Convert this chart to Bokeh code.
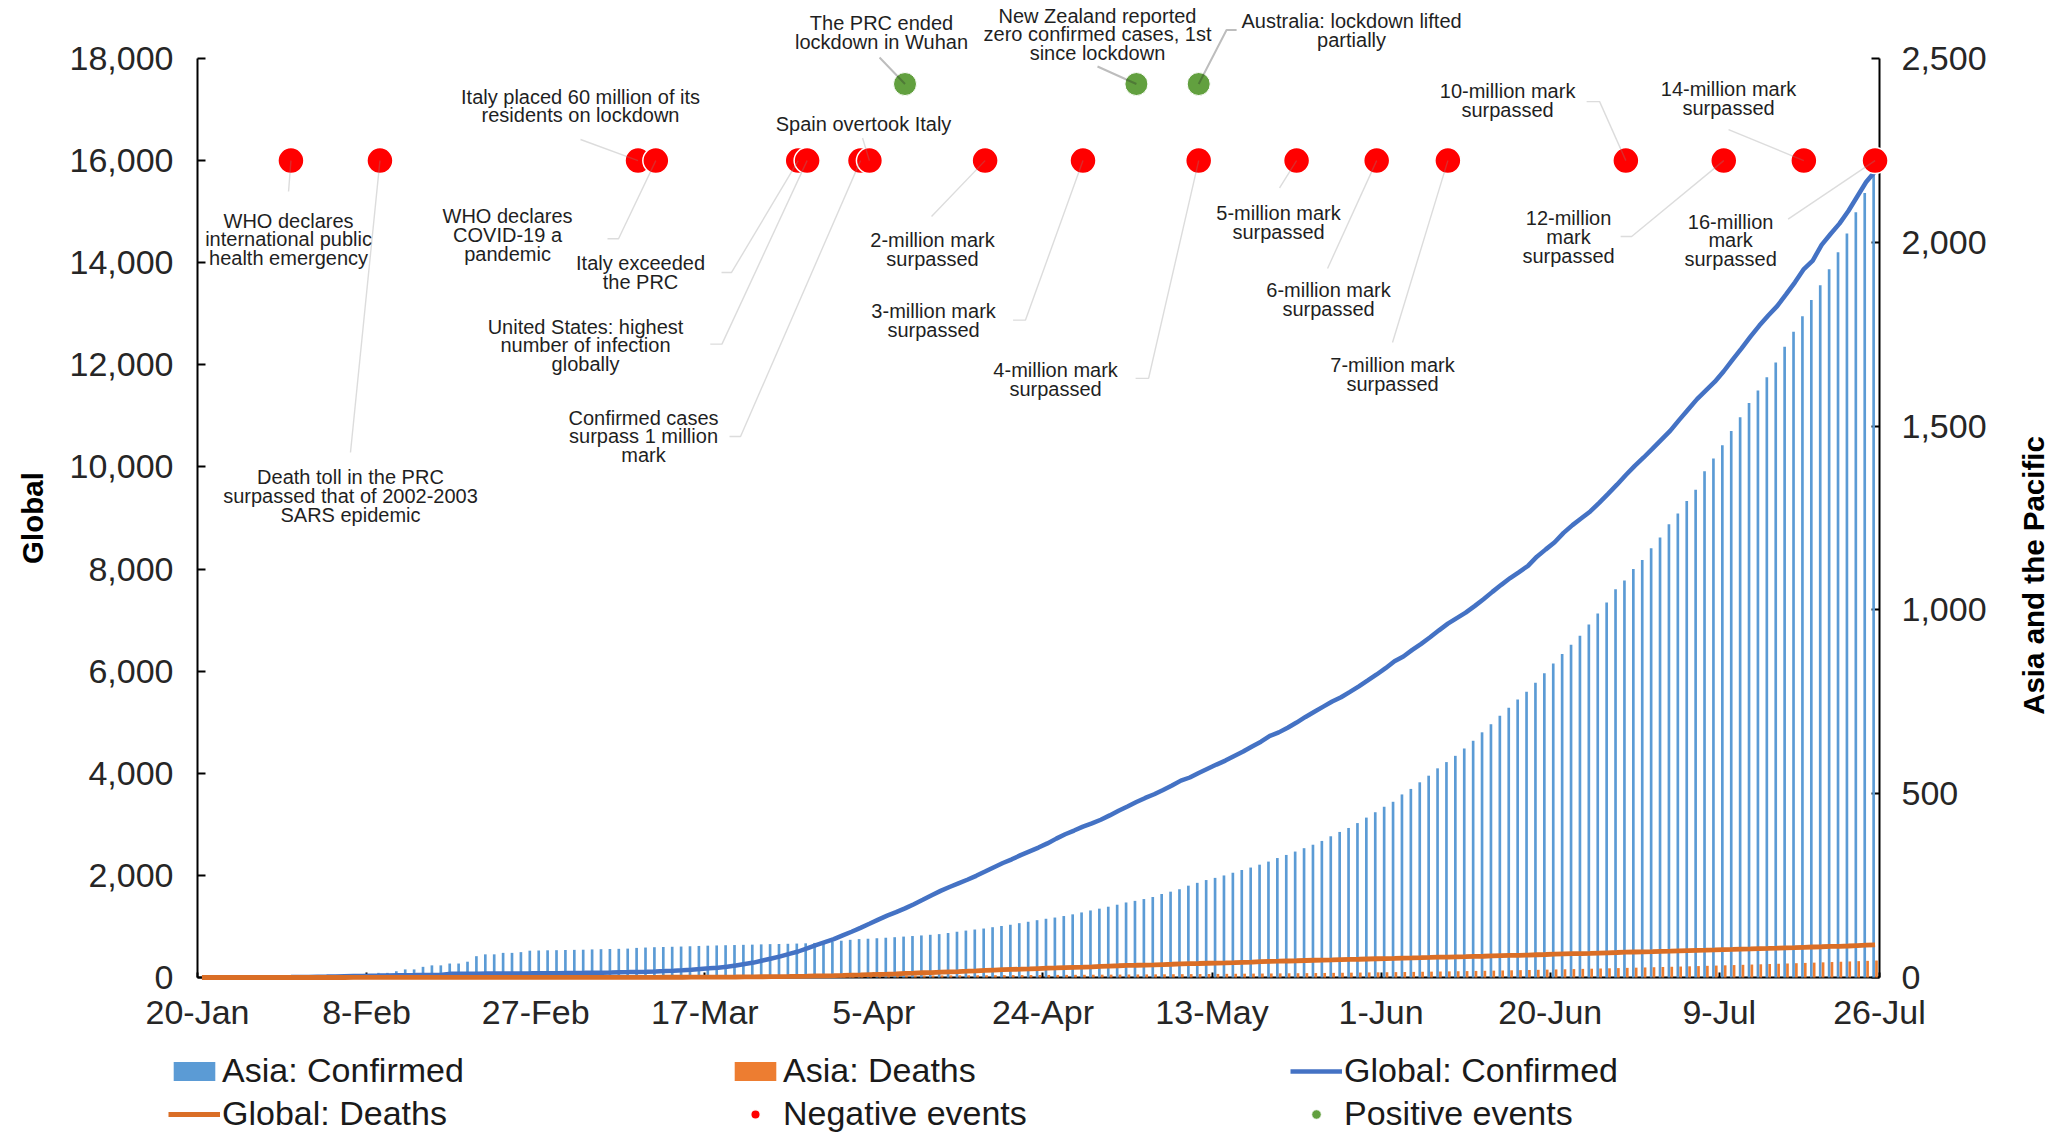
import math
import sys
from datetime import date
from bokeh.plotting import figure
from bokeh.models import (Range1d, LinearAxis, FixedTicker, NumeralTickFormatter,
                          ColumnDataSource, Legend, LegendItem, Label, PolyAnnotation)
from bokeh.embed import file_html
from bokeh.resources import INLINE

START = date(2020, 1, 20)

# ---------------- data (thousands of cases), one value per day from 20-Jan to 26-Jul ----------------
global_confirmed = [
    0.28, 0.28, 0.31, 0.58, 0.85, 1.32, 2.01, 2.80, 4.59, 6.07, 7.82, 9.83,
    11.95, 14.56, 17.39, 20.63, 24.55, 28.28, 31.48, 34.89, 37.56, 40.55, 43.10, 45.17, 47.00, 49.05,
    50.58, 51.86, 71.43, 73.33, 75.20, 75.75, 76.77, 77.79, 78.81, 79.33, 80.24, 81.11, 82.29, 83.65, 85.40,
    87.14, 88.95, 90.87, 93.09, 95.32, 98.19, 101.93, 105.59, 109.58, 113.70, 118.32, 125.05, 132.76,
    142.54, 153.52, 167.52, 179.11, 191.13, 209.84, 234.07, 266.07, 292.14, 332.93, 372.76, 414.18,
    462.68, 509.16, 571.68, 634.84, 693.22, 750.89,
    823.63, 896.45, 972.30, 1051.64, 1133.76, 1210.96, 1279.72, 1353.36, 1436.20, 1521.25, 1610.91,
    1696.59, 1773.08, 1844.86, 1914.92, 1991.56, 2074.53, 2160.21, 2241.78, 2314.62, 2397.22, 2471.14,
    2544.79, 2626.32, 2719.90, 2804.80, 2878.20, 2954.22, 3018.95, 3090.45,
    3175.21, 3267.18, 3349.79, 3435.89, 3517.35, 3588.77, 3672.24, 3759.97, 3855.79, 3917.37, 4006.26,
    4088.85, 4170.42, 4248.39, 4338.66, 4425.49, 4525.50, 4618.82, 4731.46, 4801.20, 4893.19, 4993.47,
    5103.01, 5204.51, 5304.77, 5404.51, 5488.83, 5593.63, 5701.34, 5817.39, 5934.94,
    6057.85, 6194.53, 6287.77, 6416.83, 6535.35, 6663.30, 6799.71, 6931.00, 7039.92, 7145.54, 7273.96,
    7410.51, 7553.18, 7690.71, 7823.29, 7941.79, 8061.55, 8243.00, 8385.44, 8525.04, 8708.01, 8860.33,
    8993.66, 9129.15, 9296.20, 9473.21, 9653.05, 9843.07, 10021.40, 10185.37,
    10357.66, 10533.78, 10710.01, 10922.32, 11125.25, 11327.79, 11500.30, 11669.26, 11874.23, 12102.33,
    12322.40, 12552.77, 12768.31, 12964.81, 13150.65, 13378.85, 13616.59, 13876.44, 14043.18, 14348.86,
    14562.55, 14765.26, 15012.73, 15296.93, 15581.01, 15785.64,
]

global_deaths = [
    0.01, 0.01, 0.01, 0.02, 0.03, 0.04, 0.06, 0.08, 0.11, 0.13, 0.17, 0.21,
    0.26, 0.30, 0.36, 0.43, 0.49, 0.57, 0.64, 0.72, 0.81, 0.91, 1.02, 1.12, 1.37, 1.38, 1.53, 1.67,
    1.78, 1.87, 2.01, 2.13, 2.25, 2.36, 2.46, 2.62, 2.70, 2.76, 2.80, 2.86, 2.92,
    2.98, 3.04, 3.11, 3.20, 3.28, 3.38, 3.49, 3.58, 3.81, 4.01, 4.29, 4.62, 4.97, 5.38, 5.75, 6.44,
    7.43, 7.81, 8.78, 9.84, 11.18, 12.78, 14.51, 16.23, 18.44, 20.83, 23.34, 26.49, 29.96, 33.11, 36.41,
    40.60, 45.53, 50.33, 56.99, 62.78, 67.59, 72.61, 79.24, 85.52, 92.80, 97.04, 105.95, 111.65, 117.02,
    123.01, 130.89, 139.38, 146.09, 152.55, 157.85, 162.96, 169.01, 175.69, 181.94, 187.71, 193.71,
    198.67, 202.60, 207.97, 217.77,
    224.17, 230.10, 238.63, 239.60, 243.40, 247.50, 254.05, 259.47, 265.86, 270.43, 274.49, 278.89,
    283.15, 287.40, 291.94, 297.24, 302.06, 311.85, 316.17, 318.79, 323.26, 327.74, 332.92, 337.69,
    342.03, 343.51, 348.90, 353.33, 357.69, 362.71, 367.17,
    371.17, 373.97, 379.94, 383.87, 388.07, 392.80, 397.84, 399.90, 403.79, 407.16, 413.37, 416.20,
    423.35, 427.63, 431.54, 434.80, 438.40, 445.54, 450.69, 456.97, 461.72, 465.74, 469.59, 472.86,
    479.13, 484.25, 489.31, 495.76, 499.91, 503.86,
    508.06, 512.84, 516.21, 523.01, 528.20, 532.34, 535.76, 539.91, 544.74, 549.47, 555.50, 560.46,
    566.65, 570.29, 574.46, 580.05, 585.73, 591.67, 597.58, 602.66, 608.54, 611.28, 617.25, 626.19,
    633.51, 640.02,
]

asia_confirmed = [
    0.3, 0.4, 0.5, 0.7, 0.9, 1.2, 1.6, 2.1, 2.7, 3.3, 3.9, 4.5, 5.0, 5.6, 6.1, 6.6, 7.0, 7.4, 7.8, 8.2,
    12.6, 12.6, 17.0, 22.0, 22.0, 29.0, 33.0, 33.0, 38.0, 38.0, 43.0, 58.0, 63.0, 63.0, 67.0, 67.0, 69.0, 73.0,
    73.5, 74.0, 74.3, 74.8, 75.2, 75.6,
    76.4, 77.0, 77.5, 78.0, 78.6,
    80.5, 81.5, 82.4, 83.0, 83.6, 84.2, 85.0, 85.8,
    86.6, 87.2, 87.8, 88.3, 88.9, 89.4, 90.1, 90.8, 91.2, 91.7,
    92.3, 93.0, 94.0, 95.2, 97.5, 100.1, 102.5,
    104.5, 105.5, 106.8, 108.2, 109.6, 111.3, 112.8, 114.4, 116.2, 118.0,
    121.0, 124.5, 127.6, 130.5, 133.2, 136.8, 140.1, 143.5, 147.8, 151.6,
    155.9, 159.8, 163.1, 167.2, 171.8, 177.0, 182.4, 187.3, 192.6, 198.0,
    204.1, 208.5, 213.4, 219.0, 227.2, 233.5, 240.1, 249.8, 257.5, 265.1,
    271.0, 277.6, 285.0, 292.4, 299.1, 306.9, 315.3, 325.0, 333.4, 342.6,
    351.8, 361.2, 371.5, 384.2, 396.0, 406.8, 420.1, 435.0, 449.6, 464.5,
    478.0,
    498, 513, 531, 549, 569, 586, 603, 623, 644, 667, 689, 712, 734, 756, 777, 802, 828, 854,
    880, 905, 930, 960, 990, 1020,
    1056, 1080, 1111, 1136, 1168, 1197, 1233, 1262, 1296, 1327, 1377, 1412, 1448, 1487, 1524,
    1563, 1597, 1633, 1673, 1716, 1757, 1799, 1843, 1883, 1927, 1973, 2024, 2082, 2134, 2189,
]

asia_deaths = [
    0.01, 0.01, 0.02, 0.03, 0.04, 0.06, 0.08, 0.11, 0.13, 0.17, 0.21, 0.26, 0.30, 0.36, 0.43, 0.49, 0.56, 0.64, 0.72, 0.81,
    0.91, 1.02, 1.12, 1.37, 1.38, 1.52, 1.67, 1.77, 1.87, 2.01, 2.13, 2.25, 2.36, 2.46, 2.62, 2.70, 2.76, 2.80, 2.85, 2.91,
    2.96, 3.02, 3.08, 3.13, 3.19, 3.24, 3.29, 3.33, 3.37, 3.41, 3.44, 3.47, 3.51, 3.54, 3.57, 3.60, 3.63, 3.66, 3.70, 3.74,
    3.78, 3.83, 3.88, 3.93, 3.99, 4.05, 4.12, 4.19, 4.26, 4.33, 4.41, 4.49, 4.57, 4.66, 4.75, 4.84, 4.94, 5.04, 5.14, 5.24,
    5.34, 5.44, 5.55, 5.65, 5.75, 5.86, 5.97, 6.07, 6.18, 6.28, 6.39, 6.50, 6.61, 6.72, 6.83, 6.95, 7.07, 7.19, 7.31, 7.44,
    7.57, 7.70, 7.84, 7.98, 8.12, 8.27, 8.42, 8.57, 8.73, 8.89, 9.05, 9.22, 9.39, 9.57, 9.75, 9.94, 10.13, 10.33, 10.53, 10.74,
    10.95, 11.17, 11.40, 11.63, 11.87, 12.11, 12.36, 12.62, 12.88, 13.15, 13.43, 13.71, 14.00, 14.30, 14.61, 14.93, 15.26, 15.60, 15.95, 16.31,
    16.68, 17.06, 17.45, 17.85, 18.26, 18.68, 19.11, 19.55, 20.00, 20.46, 20.93, 21.41, 21.90, 22.40, 22.91, 23.43, 23.96, 24.50, 25.05, 25.61,
    26.18, 26.76, 27.35, 27.95, 28.56, 29.18, 29.81, 30.45, 31.10, 31.76, 32.43, 33.11, 33.80, 34.50, 35.21, 35.93, 36.66, 37.40, 38.15, 38.91,
    39.68, 40.46, 41.25, 42.05, 42.86, 43.68, 44.51, 45.35, 46.20,
]

x_tick_dates = ["2020-01-20", "2020-02-08", "2020-02-27", "2020-03-17", "2020-04-05",
                "2020-04-24", "2020-05-13", "2020-06-01", "2020-06-20", "2020-07-09"]
x_tick_labels = ["20-Jan", "8-Feb", "27-Feb", "17-Mar", "5-Apr", "24-Apr", "13-May",
                 "1-Jun", "20-Jun", "9-Jul", "26-Jul"]

negative_level = 16000
positive_level = 17500

negative_dates = ["2020-01-30", "2020-02-09", "2020-03-09", "2020-03-11", "2020-03-27", "2020-03-28",
                  "2020-04-03", "2020-04-04", "2020-04-17", "2020-04-28", "2020-05-11", "2020-05-22",
                  "2020-05-31", "2020-06-08", "2020-06-28", "2020-07-09", "2020-07-18", "2020-07-26"]
negative_texts = [
    "WHO declares\ninternational public\nhealth emergency",
    "Death toll in the PRC\nsurpassed that of 2002-2003\nSARS epidemic",
    "Italy placed 60 million of its\nresidents on lockdown",
    "WHO declares\nCOVID-19 a\npandemic",
    "Italy exceeded\nthe PRC",
    "United States: highest\nnumber of infection\nglobally",
    "Confirmed cases\nsurpass 1 million\nmark",
    "Spain overtook Italy",
    "2-million mark\nsurpassed",
    "3-million mark\nsurpassed",
    "4-million mark\nsurpassed",
    "5-million mark\nsurpassed",
    "6-million mark\nsurpassed",
    "7-million mark\nsurpassed",
    "10-million mark\nsurpassed",
    "12-million\nmark\nsurpassed",
    "14-million mark\nsurpassed",
    "16-million\nmark\nsurpassed",
]
positive_dates = ["2020-04-08", "2020-05-04", "2020-05-11"]
positive_texts = [
    "The PRC ended\nlockdown in Wuhan",
    "New Zealand reported\nzero confirmed cases, 1st\nsince lockdown",
    "Australia: lockdown lifted\npartially",
]

# ---------------- layout of the callouts (data coordinates: day offset, left-axis value) ----------------
neg_layout = [
    ((10.23, 14455), (10.23, 15395), None),
    ((17.19, 9427), (17.19, 10283), None),
    ((43.04, 17070), (43.04, 16414), None),
    ((34.84, 14540), (47.31, 14470), 46.07),
    ((49.78, 13809), (60.01, 13809), 58.88),
    ((43.60, 12379), (58.93, 12406), 57.62),
    ((50.12, 10597), (61.02, 10597), 59.78),
    ((74.84, 16708), (74.73, 16443), None),
    ((82.59, 14259), (82.48, 14905), None),
    ((82.71, 12869), (93.04, 12876), 91.64),
    ((96.42, 11713), (106.87, 11734), 105.41),
    ((121.47, 14792), (121.59, 15464), None),
    ((127.09, 13280), (126.98, 13887), None),
    ((134.28, 11811), (134.28, 12438), None),
    ((147.21, 17178), (157.55, 17156), 156.09),
    ((154.06, 14508), (161.15, 14515), 159.91),
    ((172.04, 17217), (172.04, 16608), None),
    ((172.27, 14436), (178.73, 14855), None),
]
pos_layout = [
    ((76.86, 18513), (76.64, 18020), None),
    ((101.13, 18470), (101.13, 17844), None),
    ((129.68, 18549), (115.63, 18557), 116.76),
]

# canvas geometry: the frame fills the canvas; axes are pinned to the data box
W, H = 2057, 1134
PLOT_LEFT, PLOT_RIGHT, PLOT_TOP, PLOT_BOTTOM = 197, 1879, 58, 977   # canvas px of the data box
X_END, Y_END, Y2_END = 189, 18000, 2500


def day_of(s):
    y, m, d = map(int, s.split("-"))
    return (date(y, m, d) - START).days


print("lengths", len(global_confirmed), len(global_deaths), len(asia_confirmed), len(asia_deaths), file=sys.stderr)

px_per_day = (PLOT_RIGHT - PLOT_LEFT) / X_END
px_per_unit = (PLOT_BOTTOM - PLOT_TOP) / Y_END
x0 = -PLOT_LEFT / px_per_day
x1 = X_END + (W - PLOT_RIGHT) / px_per_day
y1 = Y_END + PLOT_TOP / px_per_unit
y0 = -(H - PLOT_BOTTOM) / px_per_unit
k2 = Y2_END / Y_END

FONT = "Liberation Sans"
TXT = "#262626"

p = figure(width=W, height=H, output_backend="svg", toolbar_location=None,
           x_range=Range1d(x0, x1), y_range=Range1d(y0, y1),
           x_axis_location=None, y_axis_location=None, min_border=0,
           background_fill_color="white", border_fill_color="white", outline_line_color=None)
p.extra_y_ranges = {"asia": Range1d(y0 * k2, y1 * k2)}
p.grid.visible = False

# bars (right axis)
bsrc = ColumnDataSource(dict(x=[d + 0.5 - 0.16 for d in range(len(asia_confirmed))], top=asia_confirmed))
osrc = ColumnDataSource(dict(x=[d + 0.5 + 0.16 for d in range(len(asia_deaths))], top=asia_deaths))
r_ac = p.vbar(x="x", top="top", bottom=0, width=0.3, source=bsrc, y_range_name="asia",
              fill_color="#5B9BD5", line_color=None)
r_ad = p.vbar(x="x", top="top", bottom=0, width=0.3, source=osrc, y_range_name="asia",
              fill_color="#ED7D31", line_color=None)

# axes pinned to the data box (drawn underneath the data, as in the original)
tick_days = [day_of(s) for s in x_tick_dates] + [X_END]
xa = LinearAxis(fixed_location=0, bounds=(0, X_END), ticker=FixedTicker(ticks=tick_days))
xa.major_label_overrides = {t: lab for t, lab in zip(tick_days, x_tick_labels)}
ya = LinearAxis(fixed_location=0, bounds=(0, Y_END),
                ticker=FixedTicker(ticks=list(range(0, Y_END + 1, 2000))),
                formatter=NumeralTickFormatter(format="0,0"))
ya.axis_label = "Global"
ya.axis_label_text_font = FONT
ya.axis_label_text_font_style = "bold"
ya.axis_label_text_font_size = "29.5px"
ya.axis_label_text_color = "black"
ya.axis_label_standoff = 18
ya.major_label_standoff = 24
ra = LinearAxis(fixed_location=X_END, y_range_name="asia", bounds=(0, Y2_END),
                ticker=FixedTicker(ticks=list(range(0, Y2_END + 1, 500))),
                formatter=NumeralTickFormatter(format="0,0"))
ra.major_label_standoff = 22
for ax in (xa, ya, ra):
    ax.level = "underlay"
    ax.axis_line_color = "black"
    ax.axis_line_width = 2
    ax.major_tick_line_color = "black"
    ax.major_tick_line_width = 2
    ax.major_tick_out = 0
    ax.major_tick_in = 8
    ax.minor_tick_line_color = None
    ax.major_label_text_font = FONT
    ax.major_label_text_font_size = "34px"
    ax.major_label_text_color = TXT
xa.major_tick_in = 5
xa.major_label_standoff = 15
p.add_layout(xa, "below")
p.add_layout(ya, "left")
p.add_layout(ra, "right")

# lines (left axis)
gc_src = ColumnDataSource(dict(x=[d + 0.5 for d in range(len(global_confirmed))], y=global_confirmed))
gd_src = ColumnDataSource(dict(x=[d + 0.5 for d in range(len(global_deaths))], y=global_deaths))
r_gc = p.line("x", "y", source=gc_src, line_color="#4472C4", line_width=4.5)
r_gd = p.line("x", "y", source=gd_src, line_color="#DA6E26", line_width=4.8)

# events
neg_x = [day_of(s) + 0.5 for s in negative_dates]
pos_x = [day_of(s) + 0.5 for s in positive_dates]
nsrc = ColumnDataSource(dict(x=neg_x, y=[negative_level] * len(neg_x)))
psrc = ColumnDataSource(dict(x=pos_x, y=[positive_level] * len(pos_x)))
r_neg = p.scatter("x", "y", source=nsrc, size=26, fill_color="#FF0000", line_color="white", line_width=1.5)
r_pos = p.scatter("x", "y", source=psrc, size=23, fill_color="#62A03F", line_color="white", line_width=1.0)


def add_callouts(xs, level, texts, layout, color, width):
    for xe, txt, ((lx, ly), (ax_, ay), elbow) in zip(xs, texts, layout):
        if elbow is None:
            pts_x, pts_y = [xe, ax_, xe], [level, ay, level]
        else:
            pts_x, pts_y = [xe, ax_, elbow, ax_], [level, ay, ay, ay]
        p.add_layout(PolyAnnotation(xs=pts_x, ys=pts_y, fill_alpha=0, line_color=color,
                                    line_width=width))
        p.add_layout(Label(x=lx, y=ly, text=txt, text_align="center", text_baseline="middle",
                           text_font=FONT, text_font_size="20px", text_color="#1f1f1f",
                           text_line_height=0.86))


add_callouts(neg_x, negative_level, negative_texts, neg_layout, "#8c8c8c", 1.4)
add_callouts(pos_x, positive_level, positive_texts, pos_layout, "#262626", 2.0)

p.add_layout(Label(x=206.3, y=7874, text="Asia and the Pacific", angle=math.pi / 2,
                   text_align="center", text_baseline="middle", text_font=FONT,
                   text_font_style="bold", text_font_size="29.5px", text_color="black"))

legend = Legend(items=[
    LegendItem(label="Asia: Confirmed", renderers=[r_ac]),
    LegendItem(label="Asia: Deaths", renderers=[r_ad]),
    LegendItem(label="Global: Confirmed", renderers=[r_gc]),
    LegendItem(label="Global: Deaths", renderers=[r_gd]),
    LegendItem(label="Negative events", renderers=[r_neg]),
    LegendItem(label="Positive events", renderers=[r_pos]),
], location=(168, 1), orientation="horizontal", ncols=3,
    glyph_width=52, glyph_height=24, label_standoff=2, label_width=503, label_height=36,
    spacing=4, padding=0, margin=0, border_line_color=None, background_fill_alpha=0,
    label_text_font=FONT, label_text_font_size="34px", label_text_color="#1a1a1a")
p.add_layout(legend)

open("out.html", "w").write(file_html(p, INLINE))
